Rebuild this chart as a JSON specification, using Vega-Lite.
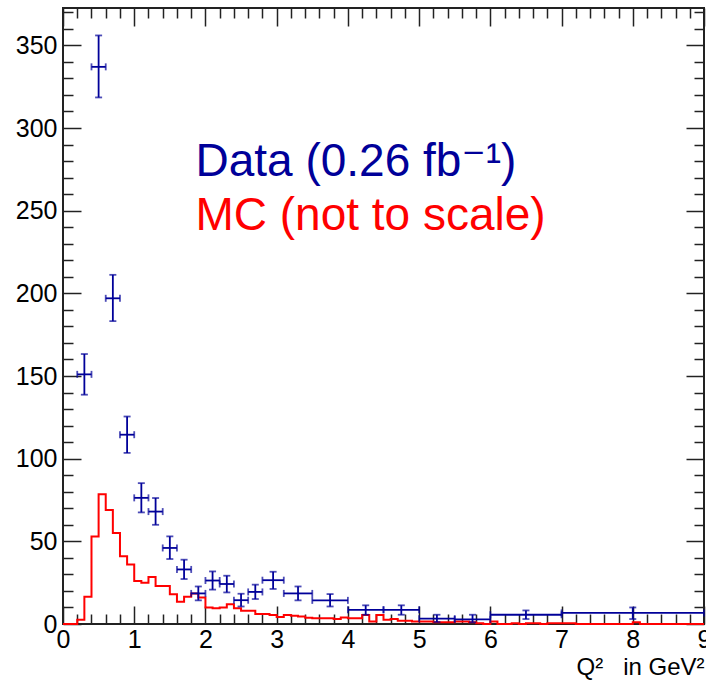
{
  "$schema": "https://vega.github.io/schema/vega-lite/v6.json",
  "width": 641,
  "height": 616,
  "autosize": "none",
  "padding": {"left": 63, "top": 8, "right": 2, "bottom": 56},
  "background": "white",
  "config": {
    "view": {"stroke": "#222", "strokeWidth": 2},
    "axis": {"domain": false, "grid": false, "labelFont": "Liberation Sans", "titleFont": "Liberation Sans", "labelColor": "#000", "titleColor": "#000", "tickColor": "#222", "tickWidth": 1.5, "labelFlush": false, "labelOverlap": false},
    "text": {"font": "Liberation Sans"}
  },
  "datasets": {
    "mc": [
      {"x":0,"v":0},{"x":0.1,"v":0},{"x":0.2,"v":2.5},{"x":0.3,"v":16.5},{"x":0.4,"v":53},{"x":0.5,"v":78.5},{"x":0.6,"v":69},{"x":0.7,"v":55},{"x":0.8,"v":41},{"x":0.9,"v":36},
      {"x":1.0,"v":26},{"x":1.1,"v":25},{"x":1.2,"v":28.5},{"x":1.3,"v":23},{"x":1.4,"v":23},{"x":1.5,"v":18},{"x":1.6,"v":13.5},{"x":1.7,"v":16.5},{"x":1.8,"v":18.5},{"x":1.9,"v":16},
      {"x":2.0,"v":10},{"x":2.1,"v":9.5},{"x":2.2,"v":10},{"x":2.3,"v":12},{"x":2.4,"v":9.5},{"x":2.5,"v":8},{"x":2.6,"v":8},{"x":2.7,"v":6},{"x":2.8,"v":6},{"x":2.9,"v":5.5},
      {"x":3.0,"v":4.3},{"x":3.1,"v":5.5},{"x":3.2,"v":5},{"x":3.3,"v":4.5},{"x":3.4,"v":3.8},{"x":3.5,"v":3.5},{"x":3.6,"v":3.5},{"x":3.7,"v":3.5},{"x":3.8,"v":3},{"x":3.9,"v":4},
      {"x":4.0,"v":3.5},{"x":4.1,"v":3.5},{"x":4.2,"v":5.5},{"x":4.3,"v":1.5},{"x":4.4,"v":5.5},{"x":4.5,"v":2.5},{"x":4.6,"v":3},{"x":4.7,"v":2},{"x":4.8,"v":2},{"x":4.9,"v":1.5},
      {"x":5.0,"v":1.5},{"x":5.1,"v":1.5},{"x":5.2,"v":1},{"x":5.3,"v":1},{"x":5.4,"v":1},{"x":5.5,"v":1.5},{"x":5.6,"v":1.5},{"x":5.7,"v":1},{"x":5.8,"v":0.5},{"x":5.9,"v":0},
      {"x":6.0,"v":1.5},{"x":6.1,"v":0},{"x":6.2,"v":0},{"x":6.3,"v":0.5},{"x":6.4,"v":0},{"x":6.5,"v":0.5},{"x":6.6,"v":0.5},{"x":6.7,"v":0},{"x":6.8,"v":0.5},{"x":6.9,"v":0.5},
      {"x":7.0,"v":0.5},{"x":7.1,"v":0.5},{"x":7.2,"v":0},{"x":7.3,"v":0},{"x":7.4,"v":0},{"x":7.5,"v":0},{"x":7.6,"v":0},{"x":7.7,"v":0},{"x":7.8,"v":0},{"x":7.9,"v":0},
      {"x":8.0,"v":1},{"x":8.1,"v":0},{"x":8.2,"v":0},{"x":8.3,"v":0},{"x":8.4,"v":0},{"x":8.5,"v":0},{"x":8.6,"v":0},{"x":8.7,"v":0},{"x":8.8,"v":0},{"x":8.9,"v":0},
      {"x":9.0,"v":0}
    ],
    "pts": [
      {"xlo":0.2,"xhi":0.4,"xc":0.3,"v":151,"lo":138.7,"hi":163.3},
      {"xlo":0.4,"xhi":0.6,"xc":0.5,"v":337,"lo":318.5,"hi":356},
      {"xlo":0.6,"xhi":0.8,"xc":0.7,"v":197,"lo":183.2,"hi":211.2},
      {"xlo":0.8,"xhi":1.0,"xc":0.9,"v":114.5,"lo":103.5,"hi":125.5},
      {"xlo":1.0,"xhi":1.2,"xc":1.1,"v":76.3,"lo":67.5,"hi":85.2},
      {"xlo":1.2,"xhi":1.4,"xc":1.3,"v":68,"lo":60,"hi":76.2},
      {"xlo":1.4,"xhi":1.6,"xc":1.5,"v":46,"lo":39.3,"hi":53},
      {"xlo":1.6,"xhi":1.8,"xc":1.7,"v":33,"lo":27.2,"hi":38.9},
      {"xlo":1.8,"xhi":2.0,"xc":1.9,"v":18.5,"lo":14.3,"hi":22.7},
      {"xlo":2.0,"xhi":2.2,"xc":2.1,"v":26.3,"lo":20.8,"hi":31.8},
      {"xlo":2.2,"xhi":2.4,"xc":2.3,"v":24.2,"lo":19.1,"hi":29.2},
      {"xlo":2.4,"xhi":2.6,"xc":2.5,"v":14.4,"lo":10.6,"hi":18.3},
      {"xlo":2.6,"xhi":2.8,"xc":2.7,"v":19.4,"lo":15.1,"hi":23.8},
      {"xlo":2.8,"xhi":3.1,"xc":2.95,"v":26.5,"lo":21.2,"hi":31.6},
      {"xlo":3.1,"xhi":3.5,"xc":3.3,"v":18.5,"lo":14.3,"hi":22.7},
      {"xlo":3.5,"xhi":4.0,"xc":3.75,"v":14.3,"lo":10.6,"hi":18.1},
      {"xlo":4.0,"xhi":4.5,"xc":4.25,"v":8.6,"lo":5.6,"hi":11.3},
      {"xlo":4.5,"xhi":5.0,"xc":4.75,"v":8.6,"lo":5.6,"hi":11.3},
      {"xlo":5.0,"xhi":5.5,"xc":5.25,"v":3.2,"lo":1.2,"hi":5.6},
      {"xlo":5.5,"xhi":6.0,"xc":5.75,"v":2.8,"lo":1,"hi":5.6},
      {"xlo":6.0,"xhi":7.0,"xc":6.5,"v":5.6,"lo":3,"hi":8.2},
      {"xlo":7.0,"xhi":9.0,"xc":8.0,"v":6.7,"lo":3,"hi":10}
    ],
    "leg": [
      {"x":1.86,"y":270.8,"t":"Data (0.26 fb⁻¹)","s":"Data"},
      {"x":1.86,"y":238.5,"t":"MC (not to scale)","s":"MC"}
    ]
  },
  "layer": [
    {
      "data": {"name": "mc"},
      "mark": {"type": "line", "interpolate": "step-after", "color": "#ff0000", "strokeWidth": 2},
      "encoding": {
        "x": {"field": "x", "type": "quantitative", "scale": {"domain": [0, 9], "nice": false, "zero": false},
              "axis": {"orient": "bottom", "values": [0,1,2,3,4,5,6,7,8,9], "tickSize": -18, "labelPadding": 21, "labelFontSize": 25,
                       "title": "Q²\u00a0\u00a0\u00a0in GeV²", "titleAnchor": "end", "titleFontSize": 24, "titleFontWeight": "normal", "titlePadding": 3}},
        "y": {"field": "v", "type": "quantitative", "scale": {"domain": [0, 372.6], "nice": false, "zero": false},
              "axis": {"orient": "left", "values": [0,50,100,150,200,250,300,350], "tickSize": -18, "labelPadding": 24, "labelFontSize": 25, "title": null}}
      }
    },
    {
      "data": {"name": "pts"},
      "mark": {"type": "rule", "color": "#000099", "strokeWidth": 1.8},
      "encoding": {
        "x": {"field": "xlo", "type": "quantitative", "scale": {"domain": [0, 9], "nice": false, "zero": false},
              "axis": {"orient": "top", "values": [0,1,2,3,4,5,6,7,8,9], "tickSize": -18, "labels": false, "title": null}},
        "x2": {"field": "xhi"},
        "y": {"field": "v", "type": "quantitative", "scale": {"domain": [0, 372.6], "nice": false, "zero": false},
              "axis": {"orient": "right", "values": [0,50,100,150,200,250,300,350], "tickSize": -18, "labels": false, "title": null}}
      }
    },
    {
      "data": {"name": "pts"},
      "mark": {"type": "rule", "color": "#000099", "strokeWidth": 1.8},
      "encoding": {
        "x": {"field": "xc", "type": "quantitative", "scale": {"domain": [0, 9], "nice": false, "zero": false},
              "axis": {"orient": "bottom", "values": [0.2,0.4,0.6,0.8,1.2,1.4,1.6,1.8,2.2,2.4,2.6,2.8,3.2,3.4,3.6,3.8,4.2,4.4,4.6,4.8,5.2,5.4,5.6,5.8,6.2,6.4,6.6,6.8,7.2,7.4,7.6,7.8,8.2,8.4,8.6,8.8], "tickSize": -10, "labels": false, "title": null}},
        "y": {"field": "lo", "type": "quantitative", "scale": {"domain": [0, 372.6], "nice": false, "zero": false},
              "axis": {"orient": "left", "values": [10,20,30,40,60,70,80,90,110,120,130,140,160,170,180,190,210,220,230,240,260,270,280,290,310,320,330,340,360,370], "tickSize": -10, "labels": false, "title": null}},
        "y2": {"field": "hi"}
      }
    },
    {
      "data": {"name": "pts"},
      "mark": {"type": "tick", "orient": "horizontal", "color": "#000099", "size": 7, "thickness": 1.8},
      "encoding": {
        "x": {"field": "xc", "type": "quantitative", "scale": {"domain": [0, 9], "nice": false, "zero": false},
              "axis": {"orient": "top", "values": [0.2,0.4,0.6,0.8,1.2,1.4,1.6,1.8,2.2,2.4,2.6,2.8,3.2,3.4,3.6,3.8,4.2,4.4,4.6,4.8,5.2,5.4,5.6,5.8,6.2,6.4,6.6,6.8,7.2,7.4,7.6,7.8,8.2,8.4,8.6,8.8], "tickSize": -10, "labels": false, "title": null}},
        "y": {"field": "hi", "type": "quantitative", "scale": {"domain": [0, 372.6], "nice": false, "zero": false},
              "axis": {"orient": "right", "values": [10,20,30,40,60,70,80,90,110,120,130,140,160,170,180,190,210,220,230,240,260,270,280,290,310,320,330,340,360,370], "tickSize": -10, "labels": false, "title": null}}
      }
    },
    {
      "data": {"name": "pts"},
      "mark": {"type": "tick", "orient": "horizontal", "color": "#000099", "size": 7, "thickness": 1.8},
      "encoding": {
        "x": {"field": "xc", "type": "quantitative", "scale": {"domain": [0, 9], "nice": false, "zero": false}, "axis": null},
        "y": {"field": "lo", "type": "quantitative", "scale": {"domain": [0, 372.6], "nice": false, "zero": false}, "axis": null}
      }
    },
    {
      "data": {"name": "pts"},
      "mark": {"type": "tick", "orient": "vertical", "color": "#000099", "size": 7, "thickness": 1.8},
      "encoding": {
        "x": {"field": "xlo", "type": "quantitative", "scale": {"domain": [0, 9], "nice": false, "zero": false}, "axis": null},
        "y": {"field": "v", "type": "quantitative", "scale": {"domain": [0, 372.6], "nice": false, "zero": false}, "axis": null}
      }
    },
    {
      "data": {"name": "pts"},
      "mark": {"type": "tick", "orient": "vertical", "color": "#000099", "size": 7, "thickness": 1.8},
      "encoding": {
        "x": {"field": "xhi", "type": "quantitative", "scale": {"domain": [0, 9], "nice": false, "zero": false}, "axis": null},
        "y": {"field": "v", "type": "quantitative", "scale": {"domain": [0, 372.6], "nice": false, "zero": false}, "axis": null}
      }
    },
    {
      "data": {"name": "leg"},
      "mark": {"type": "text", "align": "left", "baseline": "alphabetic", "fontSize": 46, "font": "Liberation Sans, DejaVu Sans"},
      "encoding": {
        "x": {"field": "x", "type": "quantitative", "scale": {"domain": [0, 9], "nice": false, "zero": false}, "axis": null},
        "y": {"field": "y", "type": "quantitative", "scale": {"domain": [0, 372.6], "nice": false, "zero": false}, "axis": null},
        "text": {"field": "t"},
        "color": {"field": "s", "type": "nominal", "scale": {"domain": ["Data", "MC"], "range": ["#000099", "#ff0000"]}, "legend": null}
      }
    }
  ],
  "resolve": {"axis": {"x": "independent", "y": "independent"}}
}
